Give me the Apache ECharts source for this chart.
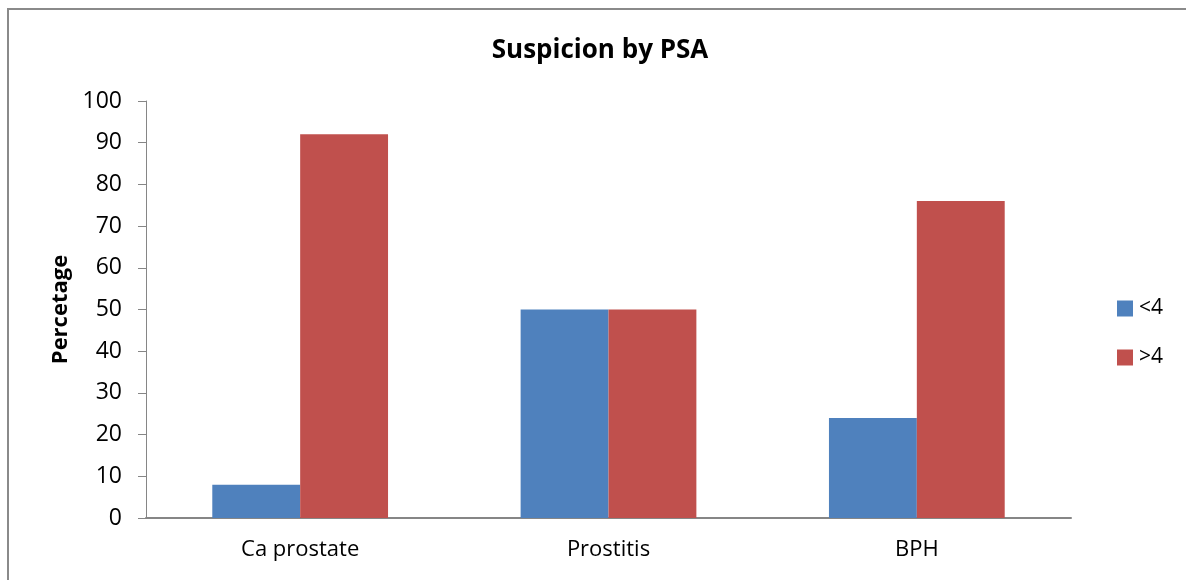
<!DOCTYPE html>
<html>
<head>
<meta charset="utf-8">
<script src="https://cdn.jsdelivr.net/npm/echarts@6/dist/echarts.min.js"></script>
<style>html,body{margin:0;padding:0;background:#fff;}#c{width:1186px;height:580px;}</style>
</head>
<body>
<div id="c"></div>
<script>
var categories = ['Ca prostate', 'Prostitis', 'BPH'];
var seriesNames = ['<4', '>4'];
var lowValues = [8, 50, 24];
var highValues = [92, 50, 76];
var yTicks = { min: 0, max: 100, interval: 10 };

var font = '"Open Sans", "DejaVu Sans", sans-serif';
var chart = echarts.init(document.getElementById('c'));
chart.setOption({
  animation: false,
  backgroundColor: '#fff',
  title: {
    text: 'Suspicion by PSA',
    left: 595, top: 33, textAlign: 'center',
    textStyle: { fontFamily: font, fontSize: 26, fontWeight: 'bold', color: '#000' }
  },
  legend: {
    orient: 'vertical', left: 1112, top: 293,
    itemWidth: 16, itemHeight: 16, itemGap: 28,
    icon: 'rect',
    textStyle: { fontFamily: font, fontSize: 21, color: '#000', padding: [0, 0, 0, 1] },
    data: seriesNames
  },
  grid: { left: 146, right: 115, top: 101, bottom: 62, containLabel: false },
  xAxis: {
    type: 'category', data: categories,
    axisLine: { lineStyle: { color: '#868686', width: 2 } },
    axisTick: { show: false },
    axisLabel: { fontFamily: font, fontSize: 22, color: '#000', margin: 21 }
  },
  yAxis: {
    type: 'value', min: yTicks.min, max: yTicks.max, interval: yTicks.interval,
    name: 'Percetage', nameLocation: 'middle', nameGap: 74, nameRotate: 90,
    nameTextStyle: { fontFamily: font, fontSize: 22, fontWeight: 'bold', color: '#000' },
    axisLine: { show: true, lineStyle: { color: '#868686', width: 1 } },
    axisTick: { show: true, length: 8, lineStyle: { color: '#868686' } },
    splitLine: { show: false },
    axisLabel: { fontFamily: font, fontSize: 23, color: '#000', margin: 24 }
  },
  series: [
    { name: seriesNames[0], type: 'bar', data: lowValues, barGap: '0%', barCategoryGap: '43%',
      itemStyle: { color: '#4f81bd' } },
    { name: seriesNames[1], type: 'bar', data: highValues, barGap: '0%', barCategoryGap: '43%',
      itemStyle: { color: '#c0504d' } }
  ],
  graphic: [{
    type: 'polyline', silent: true,
    shape: { points: [[8, 580], [8, 9], [1186, 9]] },
    style: { stroke: '#8a8a8a', lineWidth: 2, fill: null }
  }]
});
</script>
</body>
</html>
